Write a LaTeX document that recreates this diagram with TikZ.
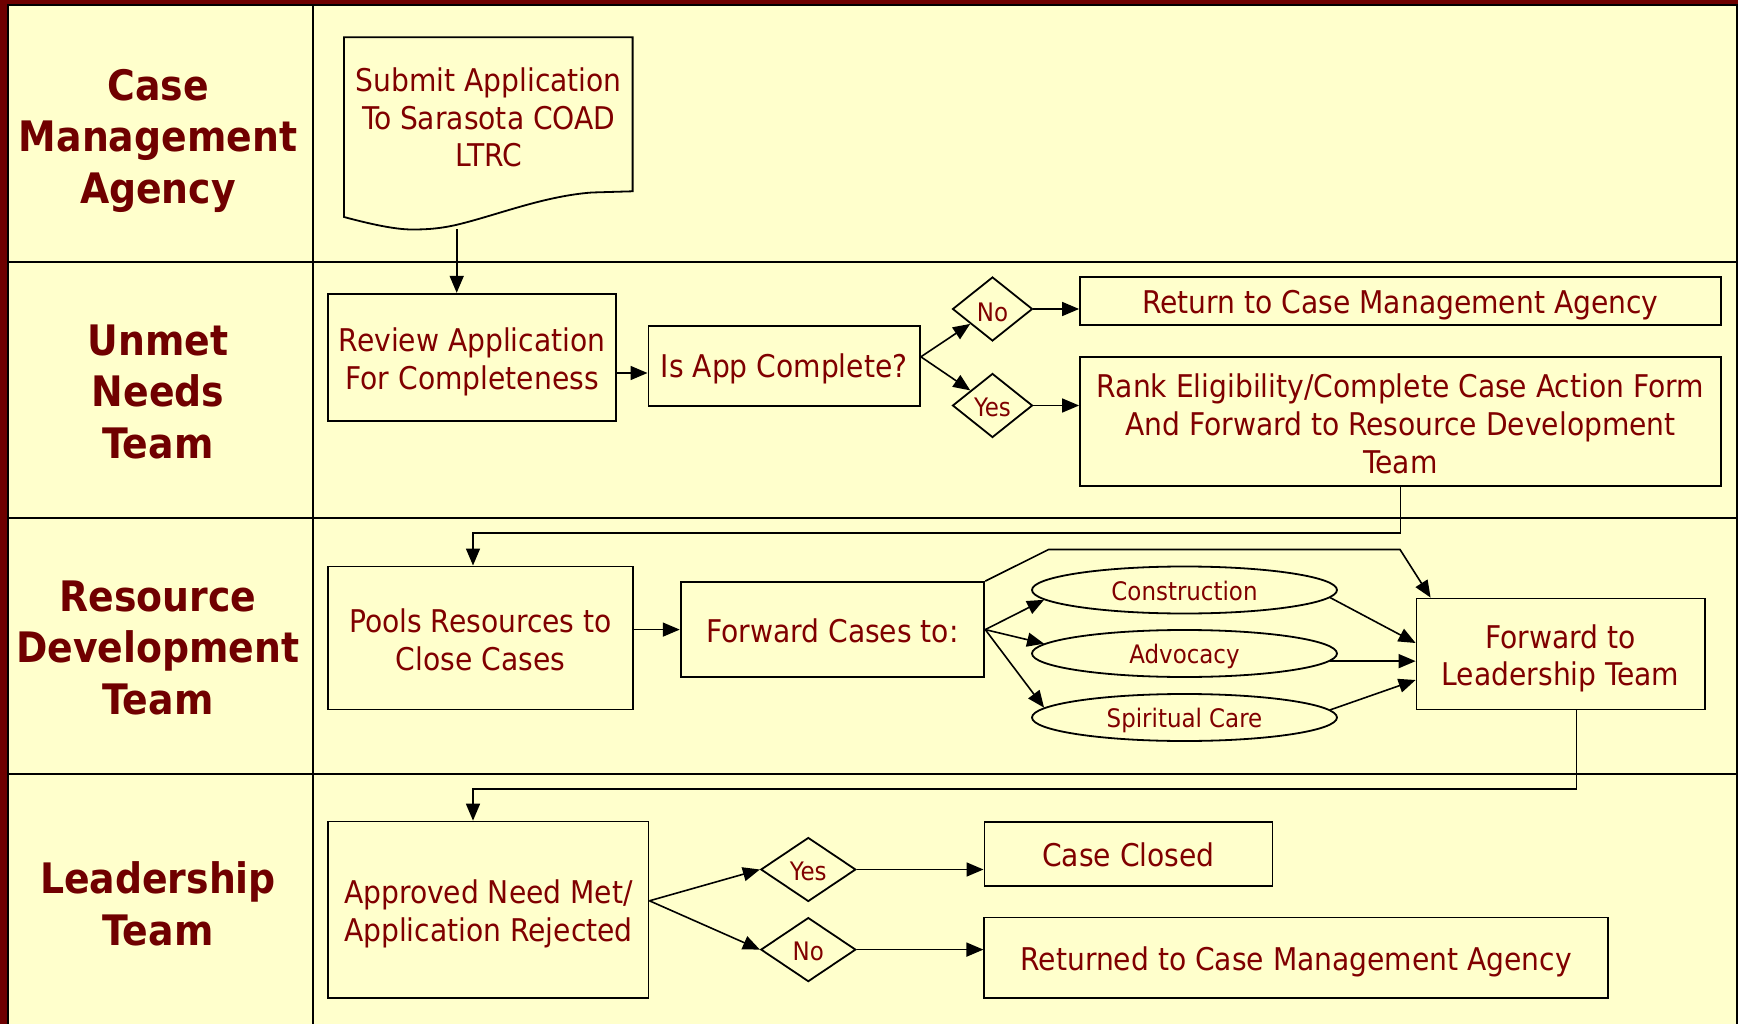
\documentclass[tikz,border=0pt]{standalone}
\usepackage{fontspec}
\setmainfont{DejaVu Sans Condensed}
\usetikzlibrary{shapes.geometric,arrows.meta,calc}
\definecolor{framered}{HTML}{6E0000}
\definecolor{paper}{HTML}{FFFFCC}
\definecolor{ttl}{HTML}{700000}
\definecolor{txt}{HTML}{800000}
\begin{document}
\begin{tikzpicture}[x=1pt,y=-1pt,
 lane/.style={line width=2pt},
 box/.style={draw, line width=1.8pt, inner sep=0pt},
 btext/.style={align=center, text=txt, inner sep=0pt, font=\fontsize{31.3}{37.7}\selectfont},
 stext/.style={align=center, text=txt, inner sep=0pt, font=\fontsize{25.5}{30}\selectfont},
 dia/.style={diamond, draw, line width=1.8pt, inner sep=0pt},
 oval/.style={ellipse, draw, line width=1.8pt, inner sep=0pt, minimum width=305pt, minimum height=47pt},
 ttlst/.style={align=center, text=ttl, font=\bfseries\fontsize{42}{51.5}\selectfont, inner sep=0pt},
 arr/.style={line width=1.6pt, -{Triangle[length=17pt,width=14pt]}}
]
\useasboundingbox (0,0) rectangle (1738,1024);
% background and frame
\fill[framered] (0,0) rectangle (1738,1024);
\fill[paper] (8,6) rectangle (1736,1024);
\draw[lane] (7.5,1024) -- (7.5,5.5) -- (1736.5,5.5) -- (1736.5,1024);
% lanes
\draw[lane] (8,261.6) -- (1736,261.6);
\draw[lane] (8,517.6) -- (1736,517.6);
\draw[lane] (8,773.7) -- (1736,773.7);
\draw[lane] (312.6,6) -- (312.6,1024);
% lane titles
\node[ttlst] (t1) at (158,140.5) {Case\\Management\\Agency};
\node[ttlst] (t2) at (158,391.5) {Unmet\\Needs\\Team};
\node[ttlst] (t3) at (158,647.5) {Resource\\Development\\Team};
\node[ttlst] (t4) at (158,904) {Leadership\\Team};
% document shape
\draw[line width=1.8pt] (344,217) -- (344,37.3) -- (632.6,37.3) -- (632.6,191.3) -- (592,192.5)
  .. controls (545,196) and (500,214) .. (460,224)
  .. controls (440,229) and (425,229.5) .. (412,229.5)
  .. controls (395,229.5) and (370,224) .. cycle;
\node[btext] (doc) at (488.8,117.5) {Submit Application\\To Sarasota COAD\\LTRC};
\coordinate (docb) at (456.7,229.5);
% lane 2
\node[box, minimum width=288.2pt, minimum height=127.5pt] (rev) at (472.2,357.5) {};
\node[btext] (revT) at ($(rev)+(0,4.4)$) {Review Application\\For Completeness};
\node[box, minimum width=271.6pt, minimum height=79.8pt] (isapp) at (784.2,365.8) {};
\node[btext] (isappT) at ($(isapp)+(0,3.3)$) {Is App Complete?};
\node[dia, minimum width=80pt, minimum height=64pt] (dno) at (992.5,309) {};
\node[stext] (dnoT) at ($(dno)+(0,3.3)$) {No};
\node[dia, minimum width=80pt, minimum height=64pt] (dyes) at (992.5,405.5) {};
\node[stext] (dyesT) at ($(dyes)+(0,2.2)$) {Yes};
\node[box, minimum width=641pt, minimum height=48pt] (ret) at (1400.5,301) {};
\node[btext] (retT) at ($(ret)+(0,4.4)$) {Return to Case Management Agency};
\node[box, minimum width=641pt, minimum height=128.7pt] (rank) at (1400.5,421.6) {};
\node[btext] (rankT) at ($(rank)+(0,2.2)$) {Rank Eligibility/Complete Case Action Form\\And Forward to Resource Development\\Team};
% lane 3
\node[box, minimum width=305pt, minimum height=143pt] (pools) at (480.5,637.9) {};
\node[btext] (poolsT) at ($(pools)+(0,2.2)$) {Pools Resources to\\Close Cases};
\node[box, minimum width=303.7pt, minimum height=95.2pt] (fwd) at (832.5,629.6) {};
\node[btext] (fwdT) at ($(fwd)+(0,1.1)$) {Forward Cases to:};
\node[oval] (e1) at (1184.5,590) {};
\node[stext] (e1T) at ($(e1)+(0,1.1)$) {Construction};
\node[oval] (e2) at (1184.5,653.5) {};
\node[stext] (e2T) at ($(e2)+(0,3.3)$) {Advocacy};
\node[oval] (e3) at (1184.5,717.5) {};
\node[stext] (e3T) at ($(e3)+(0,3.3)$) {Spiritual Care};
\node[box, minimum width=288.2pt, minimum height=111pt] (fl) at (1560.6,654) {};
\node[btext] (flT) at ($(fl)+(0,4.4)$) {Forward to\\Leadership Team};
% lane 4
\node[box, minimum width=320.3pt, minimum height=176.5pt] (appr) at (488.4,909.8) {};
\node[btext] (apprT) at ($(appr)+(0,4.4)$) {Approved Need Met/\\Application Rejected};
\node[dia, minimum width=95pt, minimum height=64pt] (dyes2) at (808.3,869.5) {};
\node[stext] (dyes2T) at ($(dyes2)+(0,2.2)$) {Yes};
\node[dia, minimum width=95pt, minimum height=64pt] (dno2) at (808.3,949.6) {};
\node[stext] (dno2T) at ($(dno2)+(0,2.2)$) {No};
\node[box, minimum width=288pt, minimum height=64pt] (closed) at (1128.4,854) {};
\node[btext] (closedT) at ($(closed)+(0,0.5)$) {Case Closed};
\node[box, minimum width=624pt, minimum height=80.3pt] (retd) at (1296.3,957.7) {};
\node[btext] (retdT) at ($(retd)+(0,4.4)$) {Returned to Case Management Agency};
% junction coordinates
\coordinate (f1) at ($(isapp.east)+(0,-9)$);
\coordinate (j1) at (473,533);
\coordinate (k1) at (1048.6,549.5);
\coordinate (k2) at (1400,549.5);
\coordinate (j2) at (1576.5,789);
\coordinate (j3) at (473,789);
\coordinate (f2) at ($(appr.east)+(0,-9)$);
% connectors
\draw[arr] (docb) -- (docb |- rev.north);
\draw[arr] ($(rev.east)+(0,15.5)$) -- ($(isapp.west)+(0,7.2)$);
\draw[arr] (f1) -- (dno);
\draw[arr] (f1) -- (dyes);
\draw[arr] (dno.east) -- (ret.west |- dno.east);
\draw[arr] (dyes.east) -- (rank.west |- dyes.east);
\draw[arr] (rank.south) |- (j1) -- (j1 |- pools.north);
\draw[arr] (pools.east |- fwd.west) -- (fwd.west);
\draw[arr] (fwd.east) -- (e1.184);
\draw[arr] (fwd.east) -- (e2.176);
\draw[arr] (fwd.east) -- (e3.176);
\draw[arr] (e1.357) -- ($(fl.west)+(0,-11)$);
\draw[arr] (e2.357) -- (fl.west |- e2.357);
\draw[arr] (e3.3) -- ($(fl.west)+(0,26)$);
\draw[arr] (fwd.north east) -- (k1) -- (k2) -- ($(fl.north west)+(15,0)$);
\draw[arr] (fl.south -| j2) -- (j2) -- (j3) -- (j3 |- appr.north);
\draw[arr] (f2) -- (dyes2.west);
\draw[arr] (f2) -- (dno2.west);
\draw[arr] (dyes2.east) -- (closed.west |- dyes2.east);
\draw[arr] (dno2.east) -- (retd.west |- dno2.east);
\end{tikzpicture}
\end{document}
